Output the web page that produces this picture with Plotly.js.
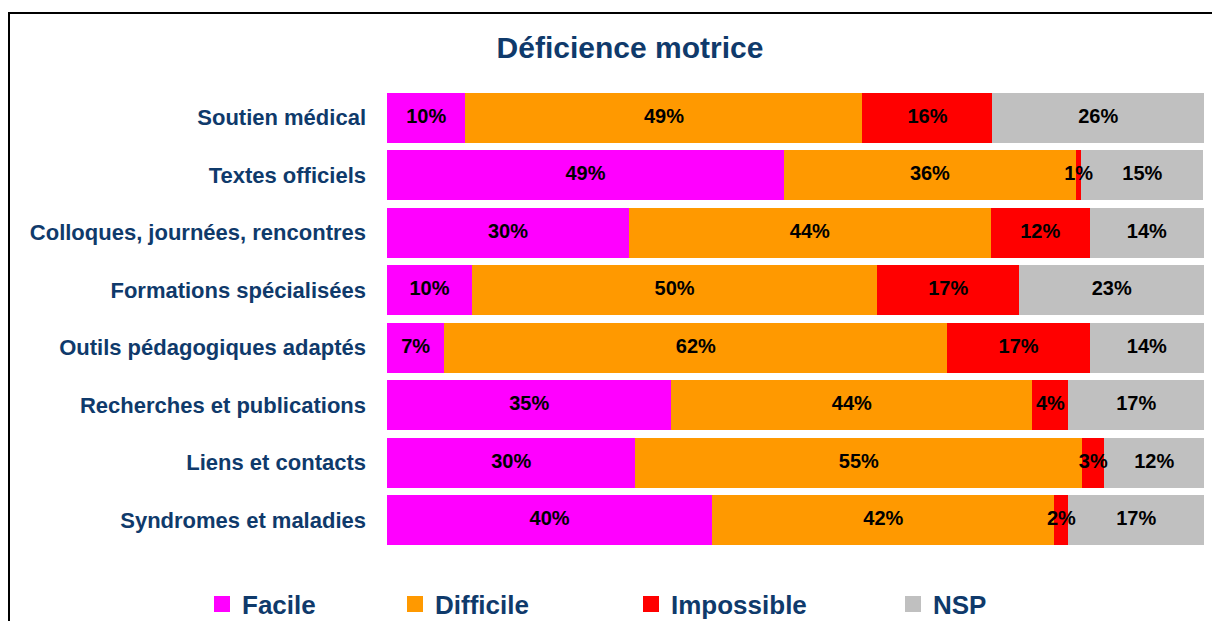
<!DOCTYPE html>
<html><head><meta charset="utf-8">
<script src="https://cdn.plot.ly/plotly-3.0.1.min.js"></script>
<style>
html,body{margin:0;padding:0;background:#fff;overflow:hidden}
#wrap{position:relative;width:1212px;height:621px}
#chart{width:1212px;height:621px}
#frame{position:absolute;left:8px;top:12px;width:1300px;height:700px;border-top:2px solid #000;border-left:2px solid #000;pointer-events:none}
</style></head><body>
<div id="wrap"><div id="chart"></div><div id="frame"></div></div>
<script>
const categories = ["Soutien médical", "Textes officiels", "Colloques, journées, rencontres", "Formations spécialisées",
  "Outils pédagogiques adaptés", "Recherches et publications", "Liens et contacts", "Syndromes et maladies"];
const facile     = [9.6, 48.6, 29.6, 10.4, 7.0, 34.8, 30.4, 39.8];
const difficile  = [48.6, 35.7, 44.3, 49.6, 61.6, 44.2, 54.7, 41.9];
const impossible = [15.9, 0.7, 12.1, 17.4, 17.4, 4.4, 2.7, 1.7];
const nsp        = [25.9, 14.9, 14.0, 22.6, 14.0, 16.6, 12.2, 16.6];
const seriesNames = ["Facile", "Difficile", "Impossible", "NSP"];
const seriesColors = ["#FF00FF", "#FF9900", "#FF0000", "#C0C0C0"];
const seriesValues = [facile, difficile, impossible, nsp];

const navy = "#0F3A6B";
const fontFam = "Liberation Sans, Arial, sans-serif";

const traces = [];
const legendNames = ["legend", "legend2", "legend3", "legend4"];
seriesValues.forEach((vals, i) => {
  traces.push({
    type: "bar", orientation: "h", y: categories, x: vals, name: seriesNames[i],
    marker: {color: seriesColors[i]}, showlegend: false, hoverinfo: "skip"
  });
});
// value labels drawn above all bars (so labels of thin segments are not covered)
const base = categories.map(() => 0);
seriesValues.forEach((vals, i) => {
  const mids = vals.map((v, k) => base[k] + v / 2);
  vals.forEach((v, k) => { base[k] += v; });
  traces.push({
    type: "scatter", mode: "text", y: categories, x: mids,
    text: vals.map(v => Math.round(v) + "%"), textposition: "middle center",
    textfont: {family: fontFam, size: 20, color: "#000", weight: "bold"},
    cliponaxis: false, showlegend: false, hoverinfo: "skip"
  });
});
seriesNames.forEach((nm, i) => {
  traces.push({
    type: "scatter", mode: "markers", x: [null], y: [null], name: nm,
    marker: {symbol: "square", size: 20, color: seriesColors[i]},
    legend: legendNames[i], showlegend: true, hoverinfo: "skip"
  });
});

const legendX = [202, 395, 631, 893];
const layout = {
  width: 1212, height: 621,
  margin: {l: 387, r: 8, t: 89, b: 72},
  paper_bgcolor: "#fff", plot_bgcolor: "#fff",
  barmode: "stack", bargap: 0.13,
  title: {text: "Déficience motrice", x: 630/1212, xref: "container", xanchor: "center",
          y: 1 - 47/621, yref: "container", yanchor: "middle",
          font: {family: fontFam, size: 30, color: navy, weight: "bold"}},
  xaxis: {range: [0, 100], visible: false, fixedrange: true},
  yaxis: {autorange: "reversed", type: "category", showgrid: false, zeroline: false, showline: false,
          ticks: "", ticklabelstandoff: 20,
          tickfont: {family: fontFam, size: 22, color: navy, weight: "bold"}},
  showlegend: true
};
legendNames.forEach((ln, i) => {
  layout[ln] = {orientation: "h", x: legendX[i] / 1212, xref: "container", xanchor: "left",
                y: 1 - 604/621, yref: "container", yanchor: "middle",
                font: {family: fontFam, size: 26, color: navy, weight: "bold"},
                bgcolor: "rgba(0,0,0,0)", borderwidth: 0};
});
Plotly.newPlot("chart", traces, layout, {displayModeBar: false, staticPlot: true});
</script>
</body></html>
